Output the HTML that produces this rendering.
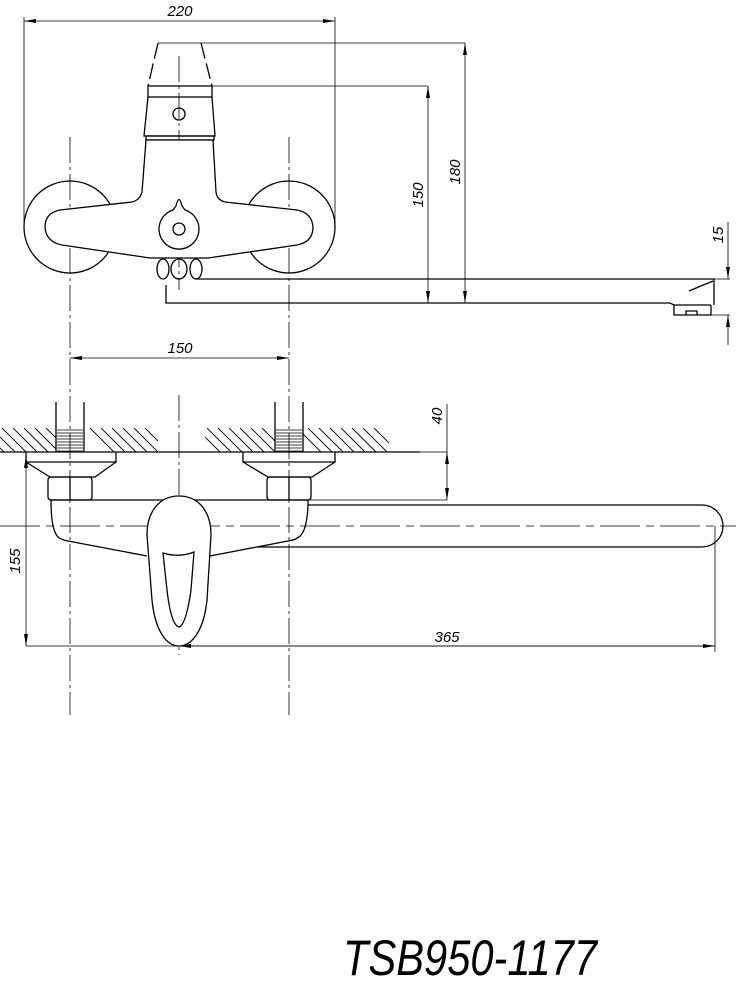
<!DOCTYPE html>
<html><head><meta charset="utf-8"><style>html,body{margin:0;padding:0;background:#fff}svg{display:block}</style></head>
<body>
<svg width="736" height="984" viewBox="0 0 736 984" xmlns="http://www.w3.org/2000/svg" font-family="Liberation Sans, sans-serif">
<defs>
<marker id="a" viewBox="0 0 12 4" refX="12" refY="2" markerWidth="12" markerHeight="4" markerUnits="userSpaceOnUse" orient="auto-start-reverse"><path d="M0,0L12,2L0,4Z" fill="#000"/></marker>
<clipPath id="hl"><rect x="0" y="428" width="56" height="24"/><rect x="84" y="428" width="74" height="24"/></clipPath>
<clipPath id="hr"><rect x="205" y="428" width="70" height="24"/><rect x="303" y="428" width="86" height="24"/></clipPath>
</defs>
<g stroke="#000" fill="none" stroke-width="0.8">
<!-- centerlines -->
<g stroke-dasharray="26,4,3,4">
<line x1="70" y1="137" x2="70" y2="715"/>
<line x1="289" y1="137" x2="289" y2="715"/>
<line x1="179" y1="56" x2="179" y2="290"/>
<line x1="179" y1="395" x2="179" y2="655"/>
</g>
<line x1="0" y1="526" x2="736" y2="526" stroke-dasharray="40,6,8,6"/>
<!-- dim 220 -->
<line x1="24" y1="21" x2="335" y2="21" marker-start="url(#a)" marker-end="url(#a)"/>
<line x1="24" y1="17" x2="24" y2="226"/>
<line x1="335" y1="17" x2="335" y2="226"/>
<!-- dims 150/180 -->
<line x1="201" y1="43" x2="465" y2="43"/>
<line x1="212" y1="86" x2="428" y2="86"/>
<line x1="428" y1="86" x2="428" y2="303" marker-start="url(#a)" marker-end="url(#a)"/>
<line x1="465" y1="43" x2="465" y2="303" marker-start="url(#a)" marker-end="url(#a)"/>
<!-- dim 15 -->
<line x1="714" y1="279" x2="730" y2="279"/>
<line x1="711" y1="315" x2="730" y2="315"/>
<line x1="728" y1="222" x2="728" y2="279" marker-end="url(#a)"/>
<line x1="728" y1="345" x2="728" y2="315" marker-end="url(#a)"/>
<!-- dim 150 horiz -->
<line x1="70" y1="358" x2="289" y2="358" marker-start="url(#a)" marker-end="url(#a)"/>
<!-- dim 40 -->
<line x1="420" y1="452" x2="447" y2="452"/>
<line x1="308" y1="500" x2="447" y2="500"/>
<line x1="447" y1="404" x2="447" y2="452"/>
<line x1="447" y1="452" x2="447" y2="500" marker-start="url(#a)" marker-end="url(#a)"/>
<!-- dim 155 / 365 -->
<line x1="26" y1="456" x2="26" y2="646" marker-start="url(#a)" marker-end="url(#a)"/>
<line x1="26" y1="646" x2="715" y2="646"/>
<line x1="179" y1="646" x2="715" y2="646" marker-start="url(#a)" marker-end="url(#a)"/>
<line x1="715" y1="526" x2="715" y2="652"/>
</g>
<g stroke="#000" fill="none" stroke-width="1.3">
<!-- top handle -->
<path d="M158,43 L148,86 M201,43 L212,86" stroke-dasharray="16,5"/>
<line x1="158" y1="43" x2="201" y2="43" stroke-width="0.8"/>
<rect x="148" y="86" width="64" height="11"/>
<path d="M148,97 L144,136 L215,136 L212,97"/>
<circle cx="179" cy="114" r="6"/>
<rect x="146" y="136" width="68" height="4"/>
<!-- circles -->
<circle cx="70" cy="227" r="46"/>
<circle cx="289" cy="227" r="46"/>
<!-- body -->
<path fill="#fff" d="M146,140 L142,192 Q140,200 132,202 L60,210 Q45,213 45,227 Q46,242 62,245 L150,258 L208,258 L297,245 Q313,242 313,227 Q312,213 297,210 L225,202 Q217,200 216,192 L213,140 Z"/>
<path fill="#fff" d="M176,206 Q179,193 182,206 L185,210 A20,20 0 1 1 173,210 Z"/>
<circle cx="179" cy="229" r="6"/>
<ellipse cx="163" cy="269" rx="6" ry="10"/>
<ellipse cx="179" cy="269" rx="8" ry="10"/>
<ellipse cx="196" cy="269" rx="6" ry="10"/>
<!-- spout top -->
<path d="M195,279 L714,279 L714,305 M166,285 L166,303 L670,303 L674,305 L711,305 M674,305 L674,315 L711,315 L711,305 M686,315 L686,311 L697,311 L697,315"/>
<line x1="689" y1="291" x2="713" y2="281"/>
<!-- pipes -->
<path d="M56,402 V452 M84,402 V452 M275,402 V452 M303,402 V452"/>
<line x1="0" y1="452" x2="420" y2="452"/>
</g>
<g stroke="#000" stroke-width="0.9">
<g clip-path="url(#hl)">
<path d="M-20,428 l24,24 M-9,428 l24,24 M2,428 l24,24 M13,428 l24,24 M24,428 l24,24 M35,428 l24,24 M46,428 l24,24 M57,428 l24,24 M90,428 l24,24 M101,428 l24,24 M112,428 l24,24 M123,428 l24,24 M134,428 l24,24 M145,428 l24,24"/>
</g>
<g clip-path="url(#hr)">
<path d="M196,428 l24,24 M207,428 l24,24 M218,428 l24,24 M229,428 l24,24 M240,428 l24,24 M251,428 l24,24 M262,428 l24,24 M297,428 l24,24 M308,428 l24,24 M319,428 l24,24 M330,428 l24,24 M341,428 l24,24 M352,428 l24,24 M363,428 l24,24 M374,428 l24,24"/>
</g>
<path d="M57,430 h26 M57,433 h26 M57,436 h26 M57,439 h26 M57,442 h26 M57,445 h26 M57,448 h26 M57,451 h26 M276,430 h26 M276,433 h26 M276,436 h26 M276,439 h26 M276,442 h26 M276,445 h26 M276,448 h26 M276,451 h26" stroke-width="0.7"/>
</g>
<g stroke="#000" fill="none" stroke-width="1.3">
<!-- flanges -->
<path d="M26,452 L26,462 L116,462 L116,452 M26,462 L50,477 L95,477 L116,462"/>
<path d="M243,452 L243,462 L335,462 L335,452 M243,462 L268,477 L312,477 L335,462"/>
<rect x="48" y="477" width="44" height="23" rx="3"/>
<line x1="70" y1="477" x2="70" y2="500"/>
<rect x="267" y="477" width="44" height="23" rx="3"/>
<line x1="289" y1="477" x2="289" y2="500"/>
<!-- body side -->
<path d="M50,500 L308,500 L308,505 Q307,530 300,536 Q296,540 288,541 L210,556"/>
<path d="M51,500 Q51,530 58,537 Q62,540 68,541 L147,556"/>
<path d="M308,505 L702,505 A21,21 0 0 1 702,547 L258,547"/>
<path fill="#fff" d="M179,496 C199,496 211,512 211,535 L207,600 C204,630 192,646 179,646 C166,646 155,630 152,600 L147,535 C147,512 159,496 179,496 Z"/>
<path d="M163,553 Q179,558 194,552 L191,590 Q186,625 179,627 Q171,625 167,590 Z"/>
</g>
<g font-style="italic" font-size="15" fill="#000">
<text x="180" y="16" text-anchor="middle">220</text>
<text x="180" y="353" text-anchor="middle">150</text>
<text x="447" y="642" text-anchor="middle">365</text>
<text transform="translate(423,195) rotate(-90)" text-anchor="middle">150</text>
<text transform="translate(460,172) rotate(-90)" text-anchor="middle">180</text>
<text transform="translate(723,235) rotate(-90)" text-anchor="middle">15</text>
<text transform="translate(442,416) rotate(-90)" text-anchor="middle">40</text>
<text transform="translate(20,561) rotate(-90)" text-anchor="middle">155</text>
</g>
<text x="343" y="975" font-style="italic" font-size="50" textLength="254" lengthAdjust="spacingAndGlyphs" fill="#000">TSB950-1177</text>
</svg>
</body></html>
